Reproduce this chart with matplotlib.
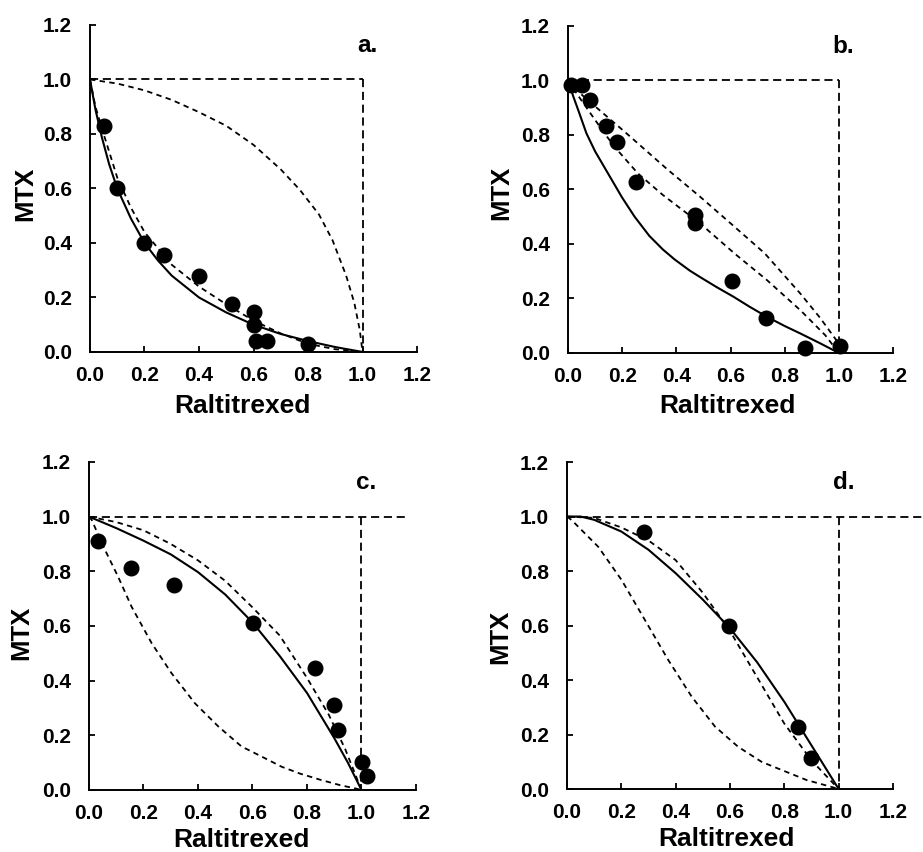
import matplotlib
matplotlib.use('Agg')
import matplotlib.pyplot as plt

plt.rcParams['font.family'] = ['Liberation Sans', 'DejaVu Sans']
plt.rcParams['font.weight'] = 'bold'

# ---- panel a ----
pa_x = [0.05, 0.10, 0.20, 0.27, 0.40, 0.52, 0.60, 0.60, 0.61, 0.65, 0.80]
pa_y = [0.83, 0.60, 0.40, 0.355, 0.28, 0.175, 0.145, 0.10, 0.04, 0.04, 0.03]
a_solid_x = [0, 0.02, 0.043, 0.07, 0.10, 0.15, 0.20, 0.25, 0.30, 0.40, 0.50, 0.60, 0.70, 0.80, 0.90, 1.0]
a_solid_y = [1.0, 0.89, 0.79, 0.69, 0.60, 0.49, 0.40, 0.335, 0.28, 0.20, 0.145, 0.10, 0.066, 0.04, 0.018, 0.0]
a_low_x = [0, 0.02, 0.05, 0.10, 0.15, 0.20, 0.30, 0.40, 0.50, 0.60, 0.70, 0.80, 0.90, 1.0]
a_low_y = [1.0, 0.90, 0.80, 0.64, 0.53, 0.44, 0.32, 0.24, 0.175, 0.115, 0.068, 0.03, 0.01, 0.0]
a_up_x = [0, 0.10, 0.20, 0.30, 0.40, 0.50, 0.60, 0.70, 0.77, 0.84, 0.89, 0.94, 0.97, 0.99, 1.0]
a_up_y = [1.0, 0.985, 0.96, 0.925, 0.88, 0.83, 0.76, 0.67, 0.595, 0.505, 0.41, 0.28, 0.18, 0.08, 0.0]

# ---- panel b ----
pb_x = [0.01, 0.05, 0.08, 0.139, 0.182, 0.252, 0.468, 0.468, 0.604, 0.732, 0.874, 1.003]
pb_y = [0.983, 0.985, 0.93, 0.833, 0.773, 0.629, 0.506, 0.476, 0.263, 0.129, 0.02, 0.026]
b_solid_x = [0, 0.02, 0.04, 0.068, 0.10, 0.15, 0.20, 0.246, 0.30, 0.35, 0.394, 0.45, 0.487,
             0.55, 0.61, 0.67, 0.734, 0.80, 0.857, 0.93, 1.0]
b_solid_y = [1.0, 0.94, 0.885, 0.806, 0.74, 0.655, 0.57, 0.50, 0.43, 0.38, 0.343, 0.302, 0.279,
             0.241, 0.207, 0.17, 0.133, 0.099, 0.072, 0.036, 0.0]
b_low_x = [0, 0.03, 0.074, 0.139, 0.182, 0.258, 0.35, 0.487, 0.615, 0.734, 0.86, 0.95, 1.0]
b_low_y = [1.0, 0.955, 0.892, 0.80, 0.745, 0.659, 0.58, 0.476, 0.365, 0.268, 0.155, 0.065, 0.0]
b_up_x = [0, 0.01, 0.10, 0.209, 0.369, 0.487, 0.60, 0.726, 0.857, 0.93, 0.99, 1.0]
b_up_y = [1.0, 0.983, 0.905, 0.812, 0.672, 0.574, 0.476, 0.366, 0.219, 0.13, 0.048, 0.0]

# ---- panel c ----
pc_x = [0.032, 0.153, 0.313, 0.603, 0.829, 0.90, 0.912, 1.003, 1.021]
pc_y = [0.912, 0.811, 0.75, 0.61, 0.448, 0.31, 0.219, 0.101, 0.051]
c_solid_x = [0, 0.10, 0.20, 0.30, 0.40, 0.50, 0.60, 0.70, 0.80, 0.90, 0.95, 1.0]
c_solid_y = [1.0, 0.958, 0.912, 0.862, 0.797, 0.715, 0.613, 0.49, 0.355, 0.19, 0.10, 0.0]
c_up_x = [0, 0.10, 0.20, 0.30, 0.40, 0.50, 0.60, 0.70, 0.80, 0.88, 0.94, 1.0]
c_up_y = [1.0, 0.98, 0.95, 0.90, 0.84, 0.765, 0.668, 0.565, 0.41, 0.275, 0.15, 0.0]
c_low_x = [0, 0.01, 0.053, 0.107, 0.156, 0.23, 0.303, 0.389, 0.475, 0.56, 0.634, 0.707, 0.774, 0.85, 0.92, 0.98, 1.0]
c_low_y = [1.0, 0.988, 0.89, 0.78, 0.671, 0.537, 0.427, 0.317, 0.232, 0.159, 0.122, 0.085, 0.06, 0.037, 0.018, 0.005, 0.0]

# ---- panel d ----
pd_x = [0.283, 0.598, 0.852, 0.899]
pd_y = [0.944, 0.599, 0.229, 0.113]
d_solid_x = [0, 0.05, 0.10, 0.20, 0.30, 0.40, 0.50, 0.60, 0.70, 0.80, 0.90, 1.0]
d_solid_y = [1.0, 1.0, 0.988, 0.945, 0.878, 0.792, 0.695, 0.59, 0.465, 0.32, 0.16, 0.0]
d_up_x = [0, 0.10, 0.20, 0.30, 0.40, 0.50, 0.60, 0.70, 0.80, 0.90, 1.0]
d_up_y = [1.0, 0.995, 0.96, 0.912, 0.84, 0.72, 0.58, 0.41, 0.24, 0.105, 0.0]
d_low_x = [0, 0.017, 0.115, 0.201, 0.287, 0.373, 0.459, 0.545, 0.63, 0.716, 0.76, 0.882, 0.98, 1.0]
d_low_y = [1.0, 0.987, 0.889, 0.767, 0.62, 0.473, 0.339, 0.229, 0.155, 0.10, 0.082, 0.033, 0.006, 0.0]

ticks = [0.0, 0.2, 0.4, 0.6, 0.8, 1.0, 1.2]
tick_labels = ['0.0', '0.2', '0.4', '0.6', '0.8', '1.0', '1.2']

fig = plt.figure(figsize=(9.23, 8.52), dpi=100)


def draw_panel(rect, letter, px, py, solid, dashed, hline_end, xlab_pos, ylab_pos):
    ax = fig.add_axes(rect)
    ax.set_xlim(0, 1.2)
    ax.set_ylim(0, 1.2)

    # dashed "box" at x=1 and y=1
    ax.plot([0, hline_end], [1.0, 1.0], color='black', lw=1.3, linestyle=(0, (4.5, 2.6)),
            clip_on=False, zorder=2)
    ax.plot([1.0, 1.0], [1.0, 0.0], color='black', lw=1.3, linestyle=(0, (4.5, 2.6)), zorder=2)

    # dashed isoboles
    for dx, dy in dashed:
        ax.plot(dx, dy, color='black', lw=1.3, linestyle=(0, (3.0, 2.4)), zorder=2)

    # fitted curve
    ax.plot(solid[0], solid[1], color='black', lw=1.5, zorder=3)

    # data
    ax.plot(px, py, 'o', color='black', markersize=10.5, clip_on=False, zorder=4)

    ax.text(1.017, 1.10, letter, ha='center', va='baseline', fontsize=17.5, fontweight='bold')

    ax.spines['right'].set_visible(False)
    ax.spines['top'].set_visible(False)
    ax.spines['left'].set_linewidth(1.4)
    ax.spines['bottom'].set_linewidth(1.4)

    ax.set_xticks(ticks)
    ax.set_yticks(ticks)
    ax.set_xticklabels(tick_labels)
    ax.set_yticklabels(tick_labels)
    ax.tick_params(direction='in', length=4, width=1.3, labelsize=15)
    ax.tick_params(axis='x', pad=10)
    ax.tick_params(axis='y', pad=13)

    ax.set_xlabel('Raltitrexed', fontsize=19, fontweight='bold')
    ax.set_ylabel('MTX', fontsize=18.5, fontweight='bold')
    ax.xaxis.set_label_coords(xlab_pos[0], xlab_pos[1])
    ax.yaxis.set_label_coords(ylab_pos[0], ylab_pos[1])
    return ax


draw_panel([0.0975, 0.5869, 0.3543, 0.3838], 'a.', pa_x, pa_y,
           (a_solid_x, a_solid_y), [(a_low_x, a_low_y), (a_up_x, a_up_y)],
           1.0, (0.465, -0.128), (-0.162, 0.483))
draw_panel([0.6154, 0.5857, 0.3521, 0.3838], 'b.', pb_x, pb_y,
           (b_solid_x, b_solid_y), [(b_low_x, b_low_y), (b_up_x, b_up_y)],
           1.0, (0.49, -0.126), (-0.169, 0.489))
draw_panel([0.0964, 0.0728, 0.3543, 0.3850], 'c.', pc_x, pc_y,
           (c_solid_x, c_solid_y), [(c_low_x, c_low_y), (c_up_x, c_up_y)],
           1.175, (0.465, -0.115), (-0.171, 0.479))
draw_panel([0.6143, 0.0739, 0.3532, 0.3838], 'd.', pd_x, pd_y,
           (d_solid_x, d_solid_y), [(d_low_x, d_low_y), (d_up_x, d_up_y)],
           1.32, (0.49, -0.117), (-0.169, 0.465))

fig.savefig('out.png', dpi=100)
